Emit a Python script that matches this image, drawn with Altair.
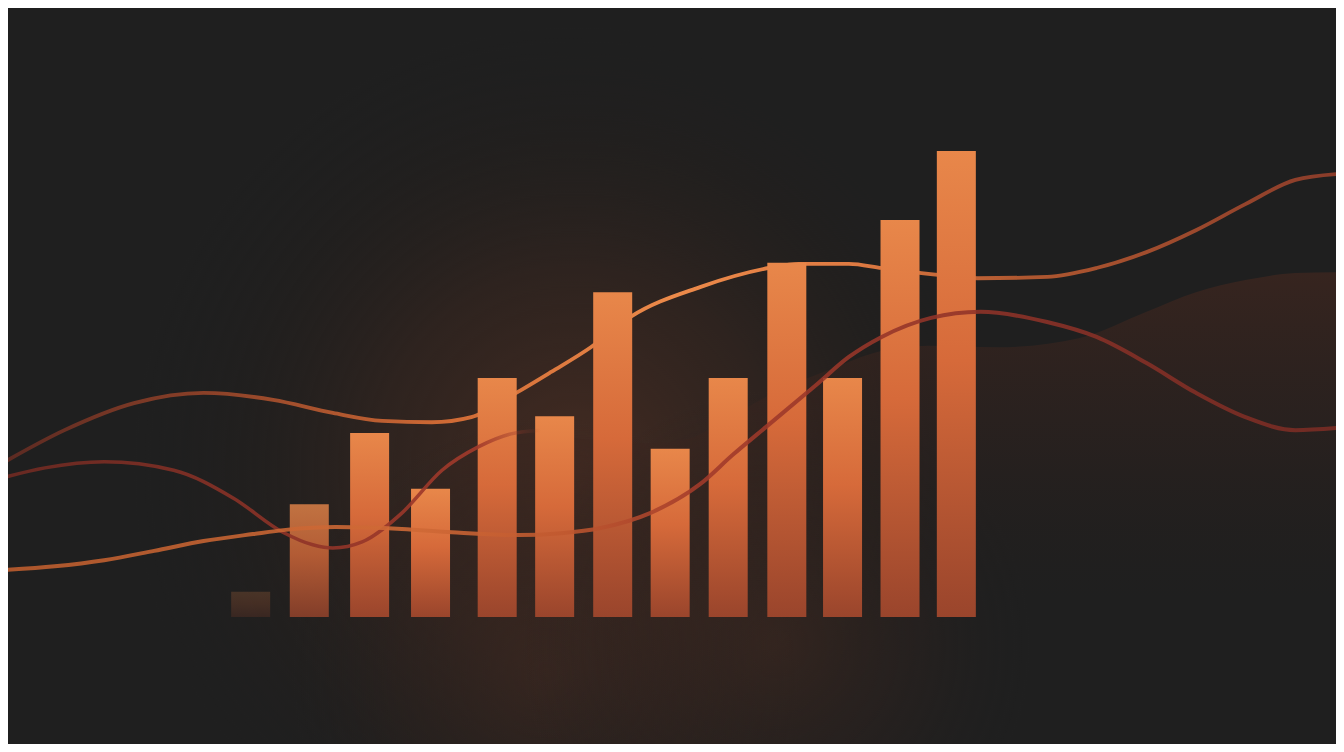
import altair as alt
import pandas as pd

# ---- data (x in bar-slot units, y in % of tallest bar) ----
bar_x = [1.0, 2.02, 3.07, 4.13, 5.29, 6.29, 7.30, 8.30, 9.31, 10.33, 11.30, 12.30, 13.28]
bar_v = [5.4, 24.2, 39.5, 27.5, 51.3, 43.1, 69.7, 36.1, 51.3, 76.0, 51.3, 85.2, 100.0]

upper_x = [-3.28, -2.24, -1.03, 0.18, 1.39, 2.43, 3.29, 4.15, 4.84, 5.62, 6.23, 6.92, 7.61,
           8.82, 10.02, 10.54, 11.41, 11.98, 12.96, 13.65, 14.86, 15.72, 16.59, 17.45,
           18.31, 19.18, 19.94]
upper_v = [33.3, 40.1, 45.9, 48.1, 46.6, 43.8, 42.1, 41.8, 42.9, 48.1, 52.6, 57.9, 64.4,
           70.8, 74.9, 75.8, 75.8, 74.9, 73.4, 72.7, 73.0, 74.9, 78.3, 83.0,
           88.6, 93.8, 95.1]

red_x = [-3.28, -2.58, -1.55, -0.34, 0.70, 1.56, 2.08, 2.43, 2.94, 3.63, 4.33, 4.96, 5.53, 6.05]
red_v = [30.0, 32.0, 33.3, 31.5, 25.5, 18.2, 15.5, 14.8, 16.1, 22.3, 31.5, 36.5, 39.3, 40.1]

lower_x = [-3.28, -2.41, -1.55, -0.68, 0.18, 1.04, 1.61, 2.48, 3.63, 4.50, 5.66, 6.40, 7.09,
           7.95, 8.82, 9.39, 9.97, 10.84, 11.41, 11.98, 12.84, 13.70, 14.86, 15.72,
           16.59, 17.45, 18.31, 19.18, 19.94]
lower_v = [10.1, 10.9, 12.2, 14.2, 16.3, 17.8, 18.7, 19.3, 18.9, 18.2, 17.6, 18.0, 19.1,
           22.3, 28.5, 34.8, 40.8, 49.8, 55.8, 60.1, 64.2, 65.5, 63.3, 60.1,
           54.5, 48.1, 42.9, 40.1, 40.6]

wave_x = [0.53, 1.22, 1.91, 2.77, 3.63, 4.33, 4.96, 5.66, 6.52, 7.66, 8.52, 9.39, 10.20,
          11.06, 11.92, 12.79, 14.00, 15.43, 16.59, 17.45, 18.31, 19.18, 19.94]
wave_v = [3.6, 6.9, 12.2, 18.7, 25.1, 31.5, 36.5, 39.7, 38.6, 37.3, 38.0, 43.3, 48.7,
          53.0, 56.9, 58.2, 57.9, 59.9, 65.5, 69.7, 72.3, 73.8, 74.0]

# ---- tables ----
bars = pd.DataFrame({"x": bar_x, "v": bar_v})
upper = pd.DataFrame({"x": upper_x, "v": upper_v})
red = pd.DataFrame({"x": red_x, "v": red_v})
lower = pd.DataFrame({"x": lower_x, "v": lower_v})
wave = pd.DataFrame({"x": wave_x, "v": wave_v})
mid_x = (min(bar_x) + max(bar_x)) / 2
glow_main = pd.DataFrame({"x": [mid_x - 0.5], "v": [max(bar_v) * 0.32]})
glow_floor = pd.DataFrame({"x": [mid_x - 1.0, mid_x + 3.0], "v": [-12.0, -6.0]})

X = alt.Scale(domain=[-3.136, 19.80], nice=False, zero=False)
Y = alt.Scale(domain=[-27.25, 130.69], nice=False, zero=False)

def xe(f="x"):
    return alt.X(f"{f}:Q", scale=X, axis=None)

def ye(f="v"):
    return alt.Y(f"{f}:Q", scale=Y, axis=None)

def lin(stops, horizontal=True):
    return alt.LinearGradient(
        gradient="linear",
        stops=[alt.GradientStop(color=c, offset=o) for o, c in stops],
        x1=0, y1=0, x2=1 if horizontal else 0, y2=0 if horizontal else 1)

def rad(stops):
    return alt.RadialGradient(
        gradient="radial",
        stops=[alt.GradientStop(color=c, offset=o) for o, c in stops],
        x1=0.5, y1=0.5, x2=0.5, y2=0.5, r1=0, r2=0.5)

glow_layer = alt.Chart(glow_main).mark_point(
    shape="circle", filled=True, size=780000, opacity=1, strokeWidth=0, clip=True,
    fill=rad([(0, "rgba(70,44,34,0.95)"), (0.45, "rgba(56,38,31,0.6)"),
              (0.75, "rgba(40,32,28,0.25)"), (1, "rgba(31,31,31,0)")]),
).encode(x=xe(), y=ye())

floor_layer = alt.Chart(glow_floor).mark_point(
    shape="circle", filled=True, size=260000, opacity=1, strokeWidth=0, clip=True,
    fill=rad([(0, "rgba(62,40,32,0.55)"), (0.6, "rgba(50,35,30,0.25)"), (1, "rgba(31,31,31,0)")]),
).encode(x=xe(), y=ye())

wave_layer = alt.Chart(wave).mark_area(
    interpolate="monotone", clip=True,
    fill=lin([(0, "rgba(70,40,31,0.6)"), (0.4, "rgba(58,36,30,0.3)"), (0.75, "rgba(40,30,26,0)"),
              (1, "rgba(40,30,26,0)")],
             horizontal=False),
).encode(x=xe(), y=ye(), y2=alt.datum(-20))

upper_layer = alt.Chart(upper).mark_line(
    interpolate="monotone", strokeWidth=3.8, clip=True, strokeCap="round",
    stroke=lin([(0, "#5c2a22"), (0.15, "#8a4028"), (0.33, "#cf6a35"), (0.5, "#ec8a4a"),
                (0.64, "#de7a42"), (0.76, "#b05830"), (1, "#8a3c2a")]),
).encode(x=xe(), y=ye())

bar_layer = alt.Chart(bars).mark_bar(
    size=39,
    color=lin([(0, "#e8874a"), (0.45, "#d66a3a"), (1, "#9a452c")], horizontal=False),
).encode(
    x=xe(), y=ye(), y2=alt.datum(0),
    opacity=alt.Opacity("x:Q", scale=alt.Scale(domain=[1.0, 2.02, 3.07], range=[0.2, 0.8, 1.0],
                                               clamp=True), legend=None),
)

red_layer = alt.Chart(red).mark_line(
    interpolate="monotone", strokeWidth=3.5, clip=True, opacity=0.9,
    stroke=lin([(0, "#702a22"), (0.6, "#923428"), (0.88, "#a23a2b"), (1, "rgba(150,56,42,0)")]),
).encode(x=xe(), y=ye())

lower_layer = alt.Chart(lower).mark_line(
    interpolate="monotone", strokeWidth=4, clip=True, opacity=0.88,
    stroke=lin([(0, "#c05e2e"), (0.3, "#d06a36"), (0.42, "#c0582f"), (0.52, "#a23a2a"),
                (0.75, "#8e3228"), (1, "#7a2c24")]),
).encode(x=xe(), y=ye())

chart = alt.layer(
    glow_layer, floor_layer, wave_layer, upper_layer, bar_layer, red_layer, lower_layer
).properties(
    width=1328, height=736, padding=0, background="#1f1f1f",
    autosize=alt.AutoSizeParams(type="none"),
).configure_view(stroke=None)

chart.save("out.html", embed_options={"renderer": "svg", "actions": False})
